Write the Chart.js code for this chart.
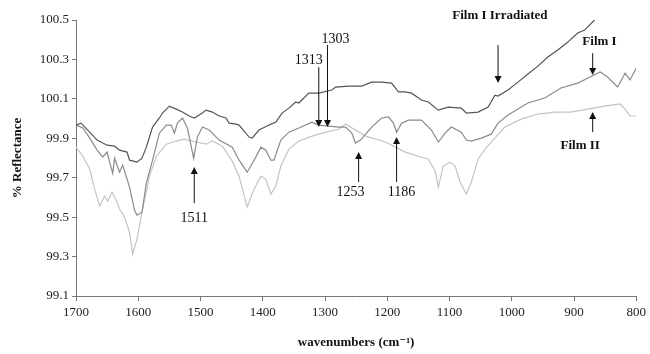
<!DOCTYPE html>
<html>
<head>
<meta charset="utf-8">
<script src="https://cdn.jsdelivr.net/npm/chart.js@4.4.1/dist/chart.umd.min.js"></script>
<style>
  html, body { margin: 0; padding: 0; background: #fff; }
  #wrap { width: 650px; height: 354px; }
</style>
</head>
<body>
<div id="wrap"><canvas id="c" width="650" height="354"></canvas></div>
<script>
// ---- data ----
const irrWn  = [1700,1692,1678,1666,1657,1650,1638,1630,1618,1614,1602,1594,1587,1577,1566,1561,1550,1539,1529,1518,1510,1497,1491,1481,1470,1459,1454,1443,1438,1422,1417,1406,1390,1379,1369,1358,1347,1342,1326,1310,1289,1283,1262,1241,1225,1209,1193,1182,1171,1161,1145,1134,1118,1102,1081,1073,1054,1038,1027,1022,1006,990,974,958,942,926,910,894,883,867];
const irrVal = [99.967,99.977,99.931,99.891,99.876,99.865,99.860,99.840,99.830,99.789,99.779,99.799,99.855,99.957,100.003,100.028,100.063,100.048,100.033,100.013,100.003,100.028,100.043,100.033,100.013,100.003,99.977,99.972,99.967,99.906,99.901,99.942,99.967,99.982,100.028,100.053,100.084,100.079,100.129,100.129,100.145,100.160,100.165,100.165,100.185,100.185,100.180,100.135,100.135,100.129,100.094,100.084,100.043,100.058,100.053,100.028,100.033,100.058,100.119,100.114,100.145,100.185,100.226,100.266,100.312,100.348,100.388,100.434,100.449,100.5];

const film1Wn  = [1700,1689,1678,1666,1657,1650,1646,1641,1638,1630,1625,1614,1606,1602,1594,1587,1577,1566,1555,1547,1542,1537,1529,1521,1518,1511,1505,1497,1486,1470,1449,1438,1425,1411,1403,1395,1387,1382,1371,1358,1342,1321,1310,1294,1278,1267,1257,1251,1243,1225,1209,1198,1190,1185,1177,1166,1145,1129,1118,1107,1097,1081,1073,1065,1049,1033,1022,1006,974,947,921,894,874,858,846,830,822,818,810,800];
const film1Val = [99.967,99.952,99.901,99.840,99.805,99.830,99.779,99.723,99.799,99.728,99.764,99.652,99.536,99.510,99.525,99.673,99.789,99.926,99.967,99.967,99.926,99.977,100.003,99.952,99.906,99.799,99.906,99.957,99.942,99.891,99.855,99.789,99.728,99.805,99.855,99.840,99.789,99.789,99.891,99.931,99.952,99.982,99.967,99.962,99.957,99.957,99.926,99.876,99.891,99.957,100.003,100.008,99.977,99.931,99.977,99.992,99.992,99.942,99.881,99.926,99.957,99.931,99.891,99.886,99.901,99.921,99.977,100.018,100.079,100.104,100.155,100.180,100.211,100.236,100.211,100.160,100.206,100.231,100.196,100.256];

const film2Wn  = [1700,1689,1678,1670,1662,1654,1649,1642,1634,1630,1622,1614,1609,1602,1594,1582,1571,1555,1539,1526,1507,1491,1481,1465,1449,1438,1425,1414,1403,1395,1387,1379,1371,1358,1342,1321,1299,1278,1267,1235,1203,1171,1150,1134,1123,1118,1110,1099,1091,1083,1073,1065,1054,1043,1033,1011,985,958,931,905,878,851,826,818,810,800];
const film2Val = [99.855,99.809,99.744,99.642,99.556,99.607,99.581,99.627,99.576,99.541,99.500,99.424,99.312,99.388,99.525,99.708,99.809,99.870,99.886,99.896,99.881,99.870,99.886,99.860,99.784,99.708,99.551,99.642,99.708,99.693,99.617,99.657,99.759,99.845,99.886,99.911,99.931,99.946,99.972,99.911,99.881,99.830,99.809,99.794,99.733,99.652,99.759,99.779,99.759,99.678,99.617,99.678,99.794,99.845,99.881,99.957,99.997,100.023,100.033,100.033,100.048,100.063,100.074,100.048,100.013,100.013];

const xTicks = [1700,1600,1500,1400,1300,1200,1100,1000,900,800];
const yTicks = [99.1,99.3,99.5,99.7,99.9,100.1,100.3,100.5];

// annotation labels: text, text position, arrow x, arrow tail y, arrow tip y (data units)
const notes = [
  {text:"1511", tx:1510, ty:99.495, ax:1510, y1:99.571, y2:99.754, bold:false},
  {text:"1313", tx:1326, ty:100.297, ax:1310, y1:100.261, y2:99.957, bold:false},
  {text:"1303", tx:1283, ty:100.404, ax:1296, y1:100.373, y2:99.957, bold:false},
  {text:"1253", tx:1259, ty:99.627, ax:1246, y1:99.678, y2:99.830, bold:false},
  {text:"1186", tx:1177, ty:99.627, ax:1185, y1:99.678, y2:99.906, bold:false},
  {text:"Film I Irradiated", tx:1019, ty:100.52, ax:1022, y1:100.373, y2:100.180, bold:true},
  {text:"Film I", tx:859, ty:100.388, ax:870, y1:100.332, y2:100.221, bold:true},
  {text:"Film II", tx:890, ty:99.865, ax:870, y1:99.931, y2:100.033, bold:true}
];

const toXY = (wn, val) => wn.map((w, i) => ({x: w, y: val[i]}));
const FONT = "'Liberation Serif', 'DejaVu Serif', serif";

const notePlugin = {
  id: 'notes',
  afterDatasetsDraw(chart) {
    const ctx = chart.ctx, xs = chart.scales.x, ys = chart.scales.y;
    ctx.save();
    notes.forEach(n => {
      const ax = xs.getPixelForValue(n.ax);
      const p1 = ys.getPixelForValue(n.y1);
      const p2 = ys.getPixelForValue(n.y2);
      const dir = p2 > p1 ? 1 : -1;
      ctx.strokeStyle = '#111';
      ctx.fillStyle = '#111';
      ctx.lineWidth = 1;
      ctx.beginPath();
      ctx.moveTo(ax, p1);
      ctx.lineTo(ax, p2 - dir * 6);
      ctx.stroke();
      ctx.beginPath();
      ctx.moveTo(ax, p2);
      ctx.lineTo(ax - 3.5, p2 - dir * 7);
      ctx.lineTo(ax + 3.5, p2 - dir * 7);
      ctx.closePath();
      ctx.fill();
      ctx.font = (n.bold ? 'bold 13px ' : '14px ') + FONT;
      ctx.textAlign = 'center';
      ctx.textBaseline = 'middle';
      ctx.fillText(n.text, xs.getPixelForValue(n.tx), ys.getPixelForValue(n.ty));
    });
    ctx.restore();
  }
};

new Chart(document.getElementById('c'), {
  type: 'line',
  data: {
    datasets: [
      {label: 'Film I Irradiated', data: toXY(irrWn, irrVal), borderColor: '#555555', borderWidth: 1.2},
      {label: 'Film I', data: toXY(film1Wn, film1Val), borderColor: '#8a8a8a', borderWidth: 1.2},
      {label: 'Film II', data: toXY(film2Wn, film2Val), borderColor: '#c4c4c4', borderWidth: 1.2}
    ]
  },
  options: {
    responsive: false,
    animation: false,
    devicePixelRatio: 1,
    elements: { point: { radius: 0 }, line: { tension: 0 } },
    layout: { padding: { top: 20, right: 11, left: 6, bottom: 0 } },
    plugins: { legend: { display: false }, tooltip: { enabled: false } },
    scales: {
      x: {
        type: 'linear', min: 800, max: 1700, reverse: true,
        afterBuildTicks: s => { s.ticks = xTicks.map(v => ({value: v})); },
        afterFit: s => { s.height = 58; },
        border: { color: '#777', width: 1 },
        grid: { drawOnChartArea: false, color: '#777', tickLength: 5 },
        ticks: { color: '#222', font: { family: FONT, size: 13 }, padding: 4, maxRotation: 0, autoSkip: false, callback: v => String(v) },
        title: { display: true, text: 'wavenumbers (cm⁻¹)', color: '#111', font: { family: FONT, size: 13, weight: 'bold' }, padding: { top: 10 } }
      },
      y: {
        type: 'linear', min: 99.1, max: 100.5,
        afterBuildTicks: s => { s.ticks = yTicks.map(v => ({value: v})); },
        afterFit: s => { s.width = 70; },
        border: { color: '#777', width: 1 },
        grid: { drawOnChartArea: false, color: '#777', tickLength: 4 },
        ticks: { color: '#222', font: { family: FONT, size: 13 }, padding: 3, callback: v => Number(v).toFixed(1) },
        title: { display: true, text: '% Reflectance', color: '#111', font: { family: FONT, size: 13, weight: 'bold' }, padding: { bottom: 2 } }
      }
    }
  },
  plugins: [notePlugin]
});
</script>
</body>
</html>
